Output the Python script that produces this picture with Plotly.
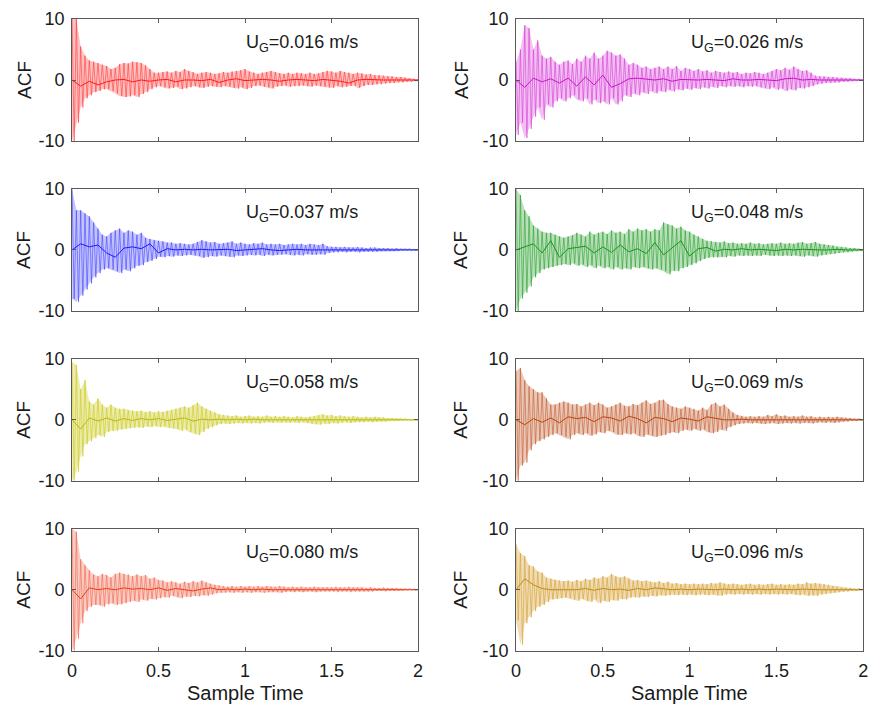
import plotly.graph_objects as go

# ---------------- data ----------------
speeds = ["0.016", "0.026", "0.037", "0.048", "0.058", "0.069", "0.080", "0.096"]
x_ticks = [0, 0.5, 1, 1.5, 2]
x_tick_labels = ["0", "0.5", "1", "1.5", "2"]
y_ticks = [-10, 0, 10]
y_tick_labels = ["-10", "0", "10"]

# upper / lower envelope of the ACF oscillation, every 0.025 of sample time (0 .. 2)
upper_016 = [10, 10, 5.5, 4, 3.2, 3, 2.8, 2.5, 2.3, 1.8,
             2, 2.6, 2.8, 2.7, 3, 2.9, 2.8, 2.4, 1.8, 1.2,
             1.2, 1.3, 1.4, 1.2, 1.5, 1.3, 1.8, 1.5, 1.3, 1.0,
             1.2, 1.3, 1.2, 1.0, 1.1, 1.3, 1.2, 1.4, 1.5, 1.6,
             1.8, 1.4, 1.2, 1.0, 1.2, 1.3, 1.5, 1.3, 1.1, 1.0,
             1.2, 1.0, 1.2, 1.1, 1.0, 1.2, 1.0, 1.1, 1.3, 1.5,
             1.4, 1.2, 1.5, 1.3, 1.2, 1.0, 1.2, 1.1, 0.9, 1.0,
             0.8, 0.8, 0.7, 0.6, 0.6, 0.5, 0.5, 0.4, 0.3, 0.2, 0.1]
lower_016 = [-10, -7, -4.5, -3, -2.5, -2, -1.8, -1.5, -1.5, -1.8,
             -2.2, -2.6, -2.8, -2.7, -2.5, -2.8, -2.3, -2.0, -1.5, -1.2,
             -1.0, -1.2, -1.4, -1.3, -1.1, -1.5, -1.4, -1.2, -1.0, -1.2,
             -1.3, -1.1, -1.0, -1.1, -1.2, -1.0, -1.1, -1.3, -1.4, -1.2,
             -1.5, -1.3, -1.0, -0.9, -1.1, -1.2, -1.4, -1.1, -1.0, -0.9,
             -1.1, -1.0, -1.0, -0.9, -1.0, -1.1, -0.9, -1.0, -1.1, -1.2,
             -1.3, -1.0, -1.2, -1.1, -1.0, -0.9, -1.3, -1.0, -0.8, -0.8,
             -0.7, -0.7, -0.6, -0.5, -0.5, -0.4, -0.4, -0.3, -0.3, -0.2, -0.1]

upper_026 = [3, 5, 9, 8.5, 5, 6.5, 4, 3.5, 3.8, 3,
             2.5, 3, 3.2, 2.6, 3.5, 3, 4, 3.5, 4.5, 3.5,
             4, 4.8, 4.5, 4, 4.2, 3.5, 2.5, 2.8, 2.5, 2,
             2.2, 1.8, 2, 2.2, 1.8, 2.2, 1.8, 2.3, 1.5, 2,
             1.8, 1.5, 1.8, 1.4, 1.6, 1.2, 1.5, 1.3, 1.2, 1.4,
             1.2, 1.3, 1.0, 1.2, 1.1, 1.3, 1.2, 1.0, 1.2, 1.5,
             1.8, 1.6, 2.0, 1.7, 2.2, 1.8, 1.5, 1.6, 1.2, 0.7,
             0.6, 0.6, 0.5, 0.5, 0.4, 0.4, 0.3, 0.3, 0.2, 0.2, 0.1]
lower_026 = [-9, -7, -9.5, -8, -6, -4.5, -6.5, -4, -4.5, -3.5,
             -3, -3.5, -3, -2.5, -3.2, -3.5, -3, -4, -3.2, -3.8,
             -3.5, -4, -3, -4, -3.5, -2.5, -2.8, -2.2, -2.5, -2,
             -2.3, -1.8, -2.2, -1.8, -2, -1.6, -1.9, -1.5, -1.7, -1.4,
             -1.6, -1.3, -1.5, -1.2, -1.4, -1.1, -1.3, -1.0, -1.2, -1.0,
             -1.1, -1.0, -1.2, -1.0, -1.1, -1.0, -1.2, -1.3, -1.5, -1.2,
             -1.6, -1.4, -1.8, -1.5, -1.7, -1.3, -1.4, -1.2, -1.0, -0.7,
             -0.6, -0.5, -0.5, -0.4, -0.4, -0.3, -0.3, -0.2, -0.2, -0.1, -0.1]

upper_037 = [10, 6.5, 6.5, 6, 5.5, 4.5, 3.5, 2.5, 2.2, 2.8,
             3.2, 3.5, 2.8, 3.2, 3, 2.5, 2.8, 2, 1.8, 1.6,
             1.5, 1.4, 1.2, 1.2, 1.0, 1.1, 1.0, 0.9, 1.0, 1.3,
             1.6, 1.4, 1.2, 1.3, 1.0, 1.1, 1.2, 1.4, 1.0, 1.2,
             1.0, 0.9, 1.1, 1.0, 1.2, 0.9, 1.0, 0.9, 1.0, 0.8,
             0.9, 1.0, 0.9, 1.0, 0.8, 1.0, 0.9, 0.8, 1.0, 0.6,
             0.5, 0.5, 0.4, 0.5, 0.4, 0.4, 0.5, 0.4, 0.3, 0.4,
             0.4, 0.3, 0.3, 0.3, 0.2, 0.3, 0.2, 0.2, 0.2, 0.1, 0.1]
lower_037 = [-8, -8.5, -7.5, -6.5, -5.5, -4.5, -3.8, -3.2, -3, -3.2,
             -3.5, -3.8, -3.2, -3.5, -3.0, -2.6, -2.5, -2.0, -1.8, -1.5,
             -1.1, -1.2, -1.0, -1.1, -0.9, -1.0, -0.9, -0.8, -0.9, -1.0,
             -1.3, -1.2, -1.0, -1.1, -0.9, -1.0, -1.1, -1.2, -0.9, -1.0,
             -0.9, -0.8, -0.9, -0.8, -1.0, -0.8, -0.9, -0.8, -0.8, -0.7,
             -0.8, -0.9, -0.8, -0.9, -0.7, -0.8, -0.8, -0.7, -0.8, -0.5,
             -0.4, -0.4, -0.3, -0.4, -0.3, -0.3, -0.4, -0.3, -0.3, -0.3,
             -0.3, -0.2, -0.2, -0.2, -0.2, -0.2, -0.1, -0.1, -0.1, -0.1, -0.1]

upper_048 = [10, 9, 6.5, 5.5, 4, 3.5, 3, 2.8, 2.8, 2.5,
             2.2, 2, 2.2, 2.4, 2.8, 2.5, 2.2, 3, 2.5, 2.8,
             3, 2.6, 3.2, 2.8, 3, 2.6, 3.4, 3, 3.5, 3.2,
             3.4, 3, 3.4, 3.2, 4.5, 4.2, 4, 3.5, 3.8, 3.2,
             3.0, 2.5, 2.2, 1.8, 1.5, 1.4, 1.3, 1.2, 1.4, 1.1,
             1.2, 1.0, 1.1, 1.0, 1.2, 1.0, 1.1, 0.9, 1.0, 1.1,
             1.0, 1.2, 1.0, 1.1, 1.0, 1.2, 1.3, 1.0, 1.1, 1.3,
             1.0, 0.9, 0.8, 0.7, 0.5, 0.5, 0.4, 0.3, 0.3, 0.2, 0.1]
lower_048 = [-10, -8, -7, -6, -4.5, -3.8, -3.2, -3, -2.8, -2.6,
             -2.5, -2.3, -2.5, -2.2, -2.6, -2.4, -2.8, -2.5, -3, -2.6,
             -3, -2.8, -3.2, -2.8, -3.2, -3, -3.2, -2.8, -3, -2.8,
             -3, -3.2, -3, -3.2, -3.5, -4, -3.4, -3.5, -3, -2.8,
             -2.5, -2.2, -1.8, -1.5, -1.3, -1.2, -1.2, -1.1, -1.2, -1.0,
             -1.1, -0.9, -1.0, -0.9, -1.0, -0.9, -1.0, -0.8, -0.9, -1.0,
             -0.9, -1.0, -0.9, -1.0, -0.9, -1.0, -1.1, -0.9, -1.0, -1.1,
             -0.9, -0.8, -0.7, -0.6, -0.5, -0.4, -0.4, -0.3, -0.2, -0.2, -0.1]

upper_058 = [9.5, 9, 5, 6.5, 3, 2.5, 3.5, 2.5, 2, 2.5,
             2, 1.8, 1.8, 1.6, 1.5, 1.4, 1.5, 1.3, 1.4, 1.2,
             1.4, 1.3, 1.5, 1.6, 1.8, 2.0, 2.2, 2.0, 2.4, 2.8,
             2.2, 1.8, 1.5, 1.2, 0.9, 0.8, 0.7, 0.6, 0.7, 0.5,
             0.6, 0.7, 0.5, 0.6, 0.5, 0.7, 0.5, 0.6, 0.5, 0.6,
             0.5, 0.4, 0.6, 0.5, 0.4, 0.5, 0.6, 0.8, 0.9, 0.7,
             0.8, 0.6, 0.7, 0.6, 0.5, 0.6, 0.5, 0.4, 0.5, 0.4,
             0.5, 0.4, 0.4, 0.3, 0.3, 0.3, 0.2, 0.2, 0.1, 0.1, 0.1]
lower_058 = [-10, -8.5, -6, -4, -3.5, -3, -2.5, -2.8, -2, -1.8,
             -1.8, -1.6, -1.5, -1.4, -1.3, -1.2, -1.3, -1.1, -1.2, -1.0,
             -1.2, -1.1, -1.3, -1.4, -1.5, -1.8, -1.6, -2.0, -2.2, -2.5,
             -2.0, -1.5, -1.2, -0.9, -0.7, -0.6, -0.7, -0.6, -0.5, -0.6,
             -0.5, -0.6, -0.5, -0.6, -0.5, -0.4, -0.5, -0.4, -0.5, -0.4,
             -0.5, -0.4, -0.5, -0.4, -0.5, -0.6, -0.7, -0.8, -0.6, -0.7,
             -0.5, -0.6, -0.5, -0.4, -0.5, -0.4, -0.4, -0.4, -0.3, -0.4,
             -0.3, -0.3, -0.3, -0.2, -0.2, -0.2, -0.1, -0.1, -0.1, -0.1, -0.1]

upper_069 = [8, 8.5, 6.5, 5.5, 5, 4.5, 4.5, 3.5, 2.5, 2.5,
             2.8, 3, 2.8, 2.5, 2.6, 2.2, 2.5, 2.8, 2.4, 2.8,
             2.5, 2.0, 2.2, 2.5, 2.8, 2.3, 2.2, 2.6, 2.4, 2.8,
             3.2, 2.6, 2.8, 3.2, 3.3, 2.6, 2.2, 2.0, 1.8, 2.2,
             2.0, 1.8, 1.5, 2.0, 1.6, 2.5, 2.8, 2.2, 2.5, 1.8,
             1.2, 0.8, 0.6, 0.5, 0.6, 0.5, 0.6, 0.5, 0.8, 0.6,
             0.9, 0.6, 0.7, 0.5, 0.6, 0.5, 0.7, 0.5, 0.6, 0.4,
             0.5, 0.4, 0.5, 0.4, 0.5, 0.4, 0.3, 0.3, 0.2, 0.2, 0.1]
lower_069 = [-10, -7.5, -7, -5, -4, -3.5, -3.2, -2.8, -2.5, -2.2,
             -2.5, -2.8, -3.2, -2.5, -2.2, -2.5, -2.2, -2.6, -2.4, -2.0,
             -2.2, -1.8, -2.0, -2.4, -2.5, -2.2, -2.4, -2.2, -2.6, -2.8,
             -2.4, -2.6, -2.8, -2.6, -2.5, -2.2, -2.0, -2.2, -1.8, -1.6,
             -1.8, -1.5, -1.8, -1.6, -2.0, -2.2, -2.0, -1.6, -1.8, -1.2,
             -0.9, -0.7, -0.6, -0.5, -0.6, -0.5, -0.6, -0.7, -0.6, -0.5,
             -0.7, -0.6, -0.5, -0.6, -0.5, -0.6, -0.5, -0.5, -0.6, -0.5,
             -0.4, -0.5, -0.4, -0.5, -0.4, -0.3, -0.3, -0.2, -0.2, -0.1, -0.1]

upper_080 = [10, 9.5, 5, 4, 3.2, 2.5, 2.2, 2.6, 2.4, 2.0,
             2.6, 2.8, 2.6, 2.5, 2.2, 2.5, 2.2, 2.4, 1.8, 2.0,
             1.6, 1.5, 1.2, 1.4, 1.2, 1.0, 1.3, 1.1, 1.4, 1.2,
             1.5, 1.2, 1.0, 0.8, 0.7, 0.6, 0.5, 0.6, 0.5, 0.6,
             0.5, 0.6, 0.5, 0.6, 0.5, 0.6, 0.5, 0.5, 0.6, 0.5,
             0.4, 0.5, 0.4, 0.5, 0.4, 0.4, 0.5, 0.4, 0.4, 0.4,
             0.4, 0.5, 0.4, 0.4, 0.5, 0.4, 0.4, 0.4, 0.3, 0.4,
             0.3, 0.3, 0.4, 0.3, 0.3, 0.3, 0.2, 0.2, 0.2, 0.1, 0.1]
lower_080 = [-10, -8, -5.5, -3.5, -2.8, -2.5, -2.5, -2.8, -2.4, -2.2,
             -2.5, -2.4, -2.2, -2.0, -1.8, -2.0, -1.6, -1.8, -1.5, -1.6,
             -1.4, -1.2, -1.3, -1.0, -1.2, -1.4, -1.1, -1.2, -1.0, -1.1,
             -0.9, -1.0, -0.8, -0.6, -0.5, -0.5, -0.4, -0.5, -0.4, -0.5,
             -0.4, -0.5, -0.4, -0.4, -0.5, -0.4, -0.4, -0.4, -0.5, -0.4,
             -0.3, -0.4, -0.3, -0.4, -0.3, -0.3, -0.4, -0.3, -0.3, -0.3,
             -0.3, -0.4, -0.3, -0.3, -0.4, -0.3, -0.3, -0.3, -0.3, -0.3,
             -0.2, -0.2, -0.3, -0.2, -0.2, -0.2, -0.2, -0.1, -0.1, -0.1, -0.1]

upper_096 = [7.5, 6, 5.5, 4, 3.8, 3, 2.8, 2.0, 1.8, 1.6,
             1.5, 1.4, 1.5, 1.3, 1.6, 1.4, 1.8, 1.6, 2.0, 1.8,
             2.2, 2.0, 2.6, 2.2, 2.0, 2.2, 1.8, 1.5, 1.6, 1.4,
             1.5, 1.3, 1.2, 1.4, 1.1, 1.3, 1.0, 1.1, 0.9, 1.0,
             0.9, 1.0, 0.9, 1.0, 0.9, 1.1, 1.0, 1.2, 1.0, 0.9,
             1.0, 0.9, 0.8, 0.9, 1.0, 0.8, 0.9, 0.8, 0.9, 1.0,
             0.8, 0.9, 0.8, 0.9, 0.8, 1.0, 0.9, 1.2, 1.0, 1.1,
             1.0, 0.9, 0.8, 0.6, 0.5, 0.4, 0.3, 0.3, 0.2, 0.2, 0.1]
lower_096 = [-5, -9, -5.5, -4.5, -3.5, -2.8, -2.5, -2.0, -1.6, -1.5,
             -1.4, -1.3, -1.4, -1.6, -1.8, -1.5, -1.8, -2.0, -1.6, -2.2,
             -1.8, -2.0, -1.7, -1.8, -1.5, -1.6, -1.3, -1.2, -1.3, -1.1,
             -1.2, -1.0, -1.1, -0.9, -1.0, -0.9, -0.8, -0.9, -0.8, -0.9,
             -0.8, -0.9, -0.8, -0.8, -0.9, -0.8, -0.9, -1.0, -0.8, -0.7,
             -0.8, -0.7, -0.8, -0.7, -0.8, -0.7, -0.8, -0.7, -0.8, -0.7,
             -0.8, -0.7, -0.8, -0.7, -0.8, -0.9, -0.8, -1.0, -0.9, -1.0,
             -0.8, -0.7, -0.6, -0.5, -0.4, -0.3, -0.3, -0.2, -0.2, -0.1, -0.1]

# slowly varying (mean) component, every 0.05 of sample time (0 .. 2)
center_016 = [0, -1.0, -0.2, -0.8, -0.3, 0, 0.1, -0.3, 0, -0.2, 0, 0.1, -0.3, 0, 0, -0.1, 0.1, -0.4, 0, 0.2,
              -0.1, 0, 0.1, 0, -0.2, 0, 0.1, 0, -0.1, 0.1, 0, -0.2, -0.5, 0, 0.1, 0, 0, 0, 0, 0, 0]
center_026 = [0, -1.2, 0.3, -0.3, 0.2, -0.5, 0.3, -1.0, 0.5, -0.8, 0.8, -1.2, -0.6, 0.2, 0.3, 0.1, 0, 0.2, -0.2, 0.1,
              0, 0, 0.1, 0, -0.1, 0.2, 0, 0, 0.1, 0, -0.1, 0.2, 0.3, 0, 0.1, 0, 0, 0, 0, 0, 0]
center_037 = [0, 1.0, 0.5, 0.8, -0.5, -1.2, 0.3, 0.5, 0.2, 1.0, -0.5, 0.2, 0, 0.1, 0, 0.1, 0, 0, 0.1, -0.1,
              0, 0, 0.2, 0, -0.1, 0, 0.1, 0, 0, 0.1, 0, 0, 0, 0, 0, 0, 0, 0, 0, 0, 0]
center_048 = [0, 0.5, 1.0, -0.5, 1.5, -1.2, 0.2, 0.4, 0.6, -0.5, 0.5, -0.4, 0.8, -0.3, 0.2, -0.6, 1.2, -0.8, 0.3, 1.5,
              -1.0, 0.2, 0.4, -0.2, 0.1, 0, 0.2, 0, 0.1, 0, -0.1, 0.1, 0, 0.1, 0, 0, 0, 0.1, 0, 0, 0]
center_058 = [0, -1.5, 0.3, -0.2, 0.3, -0.2, 0.2, -0.1, 0.2, 0, 0.2, -0.1, 0.1, 0.3, -0.2, 0.1, 0, 0.1, 0, 0.1,
              0, 0.1, 0, 0, 0.1, 0, 0, 0.1, 0, 0, 0.1, 0, 0, 0, 0, 0, 0, 0, 0, 0, 0]
center_069 = [0, -0.8, 0.2, -0.4, 0.3, -0.5, 0.5, 0.2, 0.4, -0.3, 0.5, 0.3, -0.2, 0.6, 0.2, -0.5, 0.4, 0.2, -0.3, 0.3,
              0.1, -0.2, 0.5, 0.2, 0, 0, 0.1, 0, 0, 0, 0, 0, 0, 0, 0, 0, 0, 0, 0, 0, 0]
center_080 = [0, -1.5, 0.3, 0, 0.2, 0, 0.3, 0.1, 0.2, 0, 0.3, -0.1, 0.2, 0, -0.2, 0.1, 0.3, 0, 0.1, 0,
              0.1, 0, 0.1, 0, 0, 0.1, 0, 0, 0.1, 0, 0, 0, 0, 0.1, 0, 0, 0, 0, 0, 0, 0]
center_096 = [0, 1.8, 0.8, 0.2, 0, 0, 0.1, 0, 0.2, -0.1, 0.2, 0, 0.1, -0.1, 0.2, 0, 0.3, 0.1, 0, 0.1,
              0, 0.1, 0, 0, 0.1, 0, 0.1, 0, 0.1, 0, 0.1, 0, 0, 0.1, 0, 0, 0, 0, 0, 0, 0]

uppers = [upper_016, upper_026, upper_037, upper_048, upper_058, upper_069, upper_080, upper_096]
lowers = [lower_016, lower_026, lower_037, lower_048, lower_058, lower_069, lower_080, lower_096]
centers = [center_016, center_026, center_037, center_048, center_058, center_069, center_080, center_096]

# ---------------- styling ----------------
colors = ["#ff1a1a", "#c814c8", "#1a1aff", "#18951d", "#b8b810", "#b8460f", "#ea3d14", "#c08a18"]
stripe = ["rgba(255,60,60,0.6)", "rgba(215,60,215,0.6)", "rgba(60,60,255,0.55)", "rgba(40,160,45,0.6)",
          "rgba(205,205,40,0.65)", "rgba(195,95,50,0.6)", "rgba(240,95,70,0.55)", "rgba(215,165,60,0.65)"]
band = ["rgba(255,60,60,0.32)", "rgba(215,60,215,0.32)", "rgba(60,60,255,0.3)", "rgba(40,160,45,0.32)",
        "rgba(205,205,40,0.38)", "rgba(195,95,50,0.35)", "rgba(240,95,70,0.32)", "rgba(215,165,60,0.38)"]
x_domains = [[0.0827, 0.480], [0.5925, 0.991]]
y_domains = [[0.800, 0.973], [0.559, 0.732], [0.318, 0.491], [0.077, 0.250]]
axis_color = "#5a5a5a"
text_color = "#1a1a1a"
font_family = "Liberation Sans, Arial, sans-serif"
X_MAX = 2.0

fig = go.Figure()
layout = {}
annotations = []
for k in range(8):
    row, col = k // 2, k % 2
    xa, ya = f"x{k + 1}", f"y{k + 1}"
    up, lo, ce = uppers[k], lowers[k], centers[k]
    n = min(len(up), len(lo))
    step = X_MAX / (n - 1)
    grid = [i * step for i in range(n)]
    # light envelope band
    fig.add_trace(go.Scatter(x=grid, y=up[:n], mode="lines", xaxis=xa, yaxis=ya,
                             line=dict(width=0, color=band[k]), showlegend=False,
                             hoverinfo="skip"))
    fig.add_trace(go.Scatter(x=grid, y=lo[:n], mode="lines", xaxis=xa, yaxis=ya,
                             line=dict(width=0, color=band[k]), fill="tonexty",
                             fillcolor=band[k], showlegend=False, hoverinfo="skip"))
    # oscillation stripes
    xs, ys = [], []
    for i in range(n):
        xs += [grid[i], grid[i] + step / 2]
        ys += [up[i], lo[i]]
    fig.add_trace(go.Scatter(x=xs, y=ys, mode="lines", xaxis=xa, yaxis=ya,
                             line=dict(color=stripe[k], width=1), showlegend=False,
                             hoverinfo="skip"))
    cstep = X_MAX / (len(ce) - 1)
    fig.add_trace(go.Scatter(x=[i * cstep for i in range(len(ce))], y=ce, mode="lines",
                             xaxis=xa, yaxis=ya, line=dict(color=colors[k], width=1),
                             showlegend=False, hoverinfo="skip"))

    common = dict(showline=True, mirror="ticks", linecolor=axis_color, linewidth=1,
                  ticks="inside", ticklen=4, tickcolor=axis_color, showgrid=False,
                  zeroline=False, automargin=False,
                  tickfont=dict(size=18, color=text_color, family=font_family))
    layout[f"xaxis{k + 1}"] = dict(domain=x_domains[col], anchor=ya, range=[0, X_MAX],
                                   tickvals=x_ticks, ticktext=x_tick_labels,
                                   showticklabels=(row == 3), ticklabelstandoff=4, **common)
    layout[f"yaxis{k + 1}"] = dict(domain=y_domains[row], anchor=xa, range=[-10, 10],
                                   tickvals=y_ticks, ticktext=y_tick_labels,
                                   ticklabelstandoff=3, **common)
    annotations.append(dict(text=f"U<sub>G</sub>={speeds[k]} m/s", xref=xa, yref=ya,
                            x=1.33, y=6.0, xanchor="center", yanchor="middle",
                            showarrow=False,
                            font=dict(size=18, color=text_color, family=font_family)))
    acf_x = [24 / 871, 461 / 871][col]
    annotations.append(dict(text="ACF", xref="paper", yref="paper", x=acf_x,
                            y=sum(y_domains[row]) / 2, xanchor="center", yanchor="middle",
                            textangle=-90, showarrow=False,
                            font=dict(size=19, color=text_color, family=font_family)))

for col in range(2):
    annotations.append(dict(text="Sample Time", xref="paper", yref="paper",
                            x=sum(x_domains[col]) / 2, y=1 - 693 / 705,
                            xanchor="center", yanchor="middle", showarrow=False,
                            font=dict(size=20, color=text_color, family=font_family)))

fig.update_layout(width=871, height=705, margin=dict(l=0, r=0, t=0, b=0),
                  paper_bgcolor="white", plot_bgcolor="white",
                  annotations=annotations, **layout)
fig.write_html("out.html")
